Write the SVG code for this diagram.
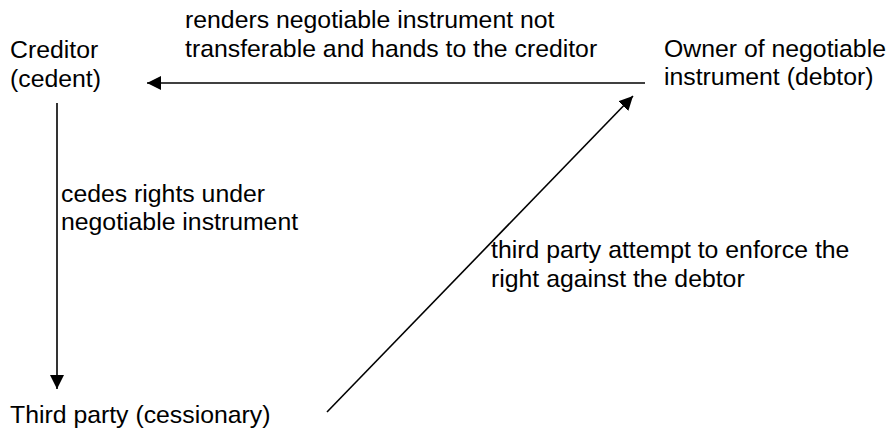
<svg xmlns="http://www.w3.org/2000/svg" width="891" height="438" viewBox="0 0 891 438">
<style>
text{font-family:"Liberation Sans",Arial,sans-serif;font-size:24.8px;fill:#000}
.c{stroke:#000;stroke-width:1.6;fill:none}
</style>
<defs>
<marker id="ah" markerUnits="userSpaceOnUse" markerWidth="16" markerHeight="15" refX="14" refY="7" orient="auto">
<path d="M0,0 L14,7 L0,14 Z" fill="#000"/>
</marker>
</defs>
<rect width="891" height="438" fill="#fff"/>
<g id="creditor"><text x="10" y="58">Creditor</text><text x="10" y="87">(cedent)</text></g>
<g id="owner"><text x="664" y="57">Owner of negotiable</text><text x="664" y="85">instrument (debtor)</text></g>
<g id="third"><text x="10" y="423">Third party (cessionary)</text></g>
<g id="connectors">
<line class="c" x1="645" y1="83" x2="147" y2="83" marker-end="url(#ah)"/>
<line class="c" x1="57" y1="103" x2="57" y2="389" marker-end="url(#ah)"/>
<line class="c" x1="327" y1="412" x2="633" y2="96" marker-end="url(#ah)"/>
</g>
<g id="labels">
<text x="185" y="28">renders negotiable instrument not</text>
<text x="185" y="57">transferable and hands to the creditor</text>
<text x="61" y="202">cedes rights under</text>
<text x="61" y="230">negotiable instrument</text>
<text x="491" y="258">third party attempt to enforce the</text>
<text x="491" y="287">right against the debtor</text>
</g>
</svg>
